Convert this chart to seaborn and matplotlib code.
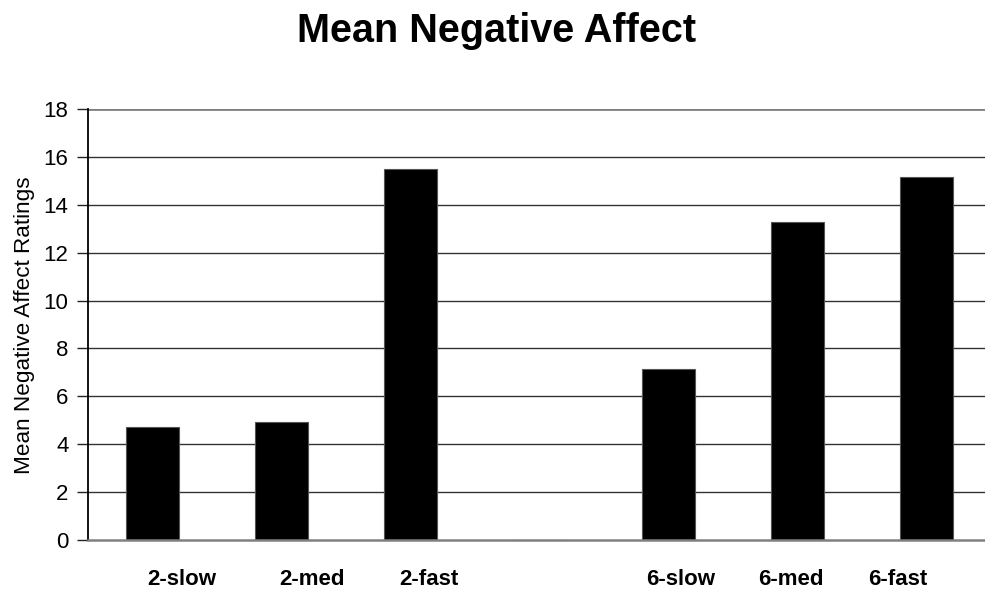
import matplotlib
matplotlib.use("Agg")
import matplotlib.pyplot as plt
import seaborn as sns
import pandas as pd

# Conditions (a blank slot separates the two set sizes)
conditions = ["2-slow", "2-med", "2-fast", "", "6-slow", "6-med", "6-fast"]
mean_negative_affect = [4.71, 4.94, 15.48, 0.0, 7.14, 13.27, 15.15]
y_ticks = [0, 2, 4, 6, 8, 10, 12, 14, 16, 18]

# category labels as they sit under the bars (x in category units)
label_text = ["2-slow", "2-med", "2-fast", "6-slow", "6-med", "6-fast"]
label_x = [0.23, 1.24, 2.14, 4.09, 4.95, 5.78]

df = pd.DataFrame({"condition": conditions, "rating": mean_negative_affect})

sns.set_theme(style="white")
plt.rcParams["font.family"] = ["Liberation Sans", "DejaVu Sans"]

fig = plt.figure(figsize=(9.85, 5.9), dpi=100)
ax = fig.add_axes([88 / 985, 1 - 540 / 590, (985 - 88) / 985, (540 - 109) / 590])

sns.barplot(data=df, x="condition", y="rating", order=conditions,
            color="black", width=0.41, edgecolor="#555555", linewidth=0.8,
            saturation=1, ax=ax, zorder=3)

ax.set_ylim(0, 18)
ax.set_yticks(y_ticks)
ax.set_xlim(-0.5, 6.453)

# horizontal gridlines
for t in y_ticks[1:]:
    ax.axhline(t, color="#808080" if t == 18 else "#333333",
               lw=2.0 if t == 18 else 1.0, zorder=1)

for side in ["top", "right"]:
    ax.spines[side].set_visible(False)
ax.spines["left"].set_color("black")
ax.spines["left"].set_linewidth(1.3)
ax.spines["bottom"].set_color("#808080")
ax.spines["bottom"].set_linewidth(1.8)
ax.spines["left"].set_zorder(4)
ax.spines["bottom"].set_zorder(4)

ax.tick_params(axis="y", which="both", left=True, length=8, width=1,
               color="#222222", labelsize=16, pad=6, labelcolor="black")

ax.set_xticks(label_x, label_text)
ax.tick_params(axis="x", bottom=False, labelsize=16, pad=15, labelcolor="black")
for lbl in ax.get_xticklabels():
    lbl.set_fontweight("bold")

ax.set_xlabel("")
ax.set_ylabel("")
fig.text(25 / 985, 1 - 325.5 / 590, "Mean Negative Affect Ratings", rotation=90,
         ha="center", va="center", fontsize=16.2, color="black")

fig.text(497 / 985, 1 - 42 / 590, "Mean Negative Affect", ha="center", va="baseline",
         fontsize=28.5, fontweight="bold", color="black")

fig.savefig("out.png", dpi=100, facecolor="white")
